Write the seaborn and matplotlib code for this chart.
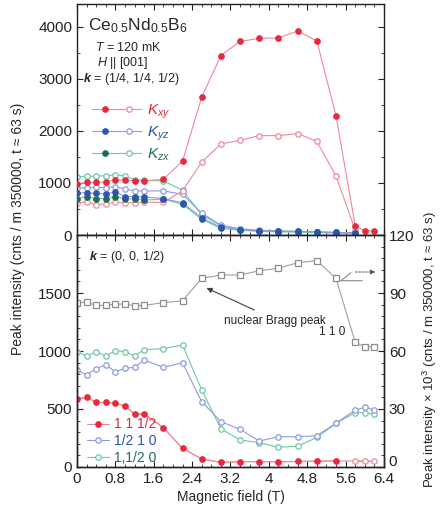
import matplotlib
matplotlib.use("Agg")
import matplotlib.pyplot as plt
import matplotlib.transforms as mtransforms
import seaborn as sns
import numpy as np
from matplotlib.ticker import MultipleLocator
from matplotlib.legend_handler import HandlerTuple

# ---------------- data ----------------
field = [0, 0.2, 0.4, 0.6, 0.8, 1.0, 1.2, 1.4, 1.8, 2.2, 2.6, 3.0, 3.4, 3.8,
         4.2, 4.6, 5.0, 5.4, 5.8, 6.0, 6.2]

# top panel, k = (1/4, 1/4, 1/2)
kxy_filled = [980, 1010, 1010, 1020, 1060, 1060, 1040, 1040, 1070, 1420, 2650,
              3450, 3720, 3780, 3790, 3920, 3730, 2290, 180, 80, 80]
kxy_open = [610, 640, 585, 600, 630, 620, 620, 630, 625, 850, 1400, 1750, 1820,
            1910, 1910, 1950, 1800, 1130, 100]
kyz_filled = [810, 810, 800, 790, 830, 740, 740, 730, 700, 620, 330, 150, 100,
              80, 70, 70, 60, 50, 40]
kyz_open = [900, 910, 920, 910, 930, 880, 850, 845, 850, 780, 420, 190, 120,
            90, 80, 70, 60, 50, 40]
kzx_filled = [700, 740, 700, 700, 740, 690, 700, 670, 690, 590, 300, 130, 90,
              70, 60, 60, 50, 40, 30]
kzx_open = [1120, 1130, 1130, 1140, 1150, 1140, 1060, 1050, 1040, 860, 390, 180,
            110, 80, 70, 60, 50, 40, 30]

# bottom panel, k = (0, 0, 1/2)
r_11half = [586, 601, 557, 557, 549, 526, 457, 457, 339, 161, 69, 40, 46, 46,
            45, 48, 50, 52, 52, 52, 52]
n_filled_11half = 18
r_half10 = [836, 793, 848, 879, 822, 851, 859, 922, 859, 899, 563, 391, 325,
            224, 261, 261, 270, 377, 491, 514, 491]
r_1half0 = [994, 957, 994, 957, 1003, 994, 957, 1012, 1020, 1052, 664, 330, 233,
            210, 170, 180, 255, 377, 468, 468, 454]
# nuclear Bragg peak 1 1 0 (right axis, x 10^3)
bragg_110 = [85.0, 85.2, 83.6, 83.6, 84.3, 84.3, 83.4, 83.6, 85.0, 86.0, 97.6,
             99.3, 99.3, 101.5, 102.8, 105.7, 106.7, 97.6, 64.5, 62.2, 62.2]

xticks = [0, 0.8, 1.6, 2.4, 3.2, 4, 4.8, 5.6, 6.4]
xtick_labels = ["0", "0.8", "1.6", "2.4", "3.2", "4", "4.8", "5.6", "6.4"]

# ---------------- style ----------------
sns.set_theme(style="ticks")
plt.rcParams["font.family"] = ["Liberation Sans", "DejaVu Sans"]
plt.rcParams["mathtext.fontset"] = "custom"
plt.rcParams["mathtext.rm"] = "Liberation Sans"
plt.rcParams["mathtext.it"] = "Liberation Sans:italic"
plt.rcParams["mathtext.bf"] = "Liberation Sans:italic:bold"
plt.rcParams["axes.linewidth"] = 1.0
plt.rcParams["axes.edgecolor"] = "#222222"

RED = "#e8283c"
PINK = "#f08898"
BLUE = "#2a55b0"
LBLUE = "#8c9ae0"
GREEN = "#1e6e50"
LGREEN = "#6cc8a4"
GRAY = "#8c8c8c"

fig = plt.figure(figsize=(4.41, 5.12), dpi=100)
axt = fig.add_axes([0.1746, 0.5410, 0.6961, 0.4512])
axb = fig.add_axes([0.1746, 0.0879, 0.6961, 0.4531])

MS = 3.9


def series(ax, x, y, lcolor, mfc, mec, marker="o", ms=MS, lw=0.8, z=2):
    sns.lineplot(x=x, y=y, ax=ax, color=lcolor, marker=marker, markersize=ms,
                 markerfacecolor=mfc, markeredgecolor=mec, markeredgewidth=0.9,
                 linewidth=lw, estimator=None, sort=False, legend=False,
                 zorder=z)
    return ax.lines[-1]


# ---- top panel ----
n = len(kyz_open)
l_zo = series(axt, field[:n], kzx_open, LGREEN, "white", LGREEN)
l_yo = series(axt, field[:n], kyz_open, LBLUE, "white", LBLUE)
l_xo = series(axt, field[:len(kxy_open)], kxy_open, PINK, "white", PINK)
l_zf = series(axt, field[:n], kzx_filled, LGREEN, GREEN, GREEN, z=3)
l_yf = series(axt, field[:n], kyz_filled, LBLUE, BLUE, BLUE, z=3)
l_xf = series(axt, field, kxy_filled, PINK, RED, RED, z=3)

axt.set_xlim(0, 6.4)
axt.set_ylim(0, 4440)
axt.set_yticks([0, 1000, 2000, 3000, 4000])
axt.yaxis.set_minor_locator(MultipleLocator(500))
axt.set_xticks(xticks)
axt.xaxis.set_minor_locator(MultipleLocator(0.2))
axt.tick_params(axis="x", labelbottom=False)
axt.set_xlabel("")
axt.set_ylabel("")

fs_txt = 9
axt.text(0.035, 0.945, r"Ce$_{0.5}$Nd$_{0.5}$B$_{6}$", transform=axt.transAxes,
         fontsize=12.5, va="top", ha="left")
axt.text(0.06, 0.81, r"$T$ = 120 mK", transform=axt.transAxes, fontsize=fs_txt,
         va="center", ha="left")
axt.text(0.065, 0.745, r"$H$ || [001]", transform=axt.transAxes, fontsize=fs_txt,
         va="center", ha="left")
axt.text(0.02, 0.675, r"$\mathbf{k}$ = (1/4, 1/4, 1/2)", transform=axt.transAxes,
         fontsize=fs_txt, va="center", ha="left")

leg = axt.legend(handles=[(l_xf, l_xo), (l_yf, l_yo), (l_zf, l_zo)],
                 labels=[r"$K_{xy}$", r"$K_{yz}$", r"$K_{zx}$"],
                 handler_map={tuple: HandlerTuple(ndivide=None, pad=0.0)},
                 loc="upper left", bbox_to_anchor=(0.03, 0.60), frameon=False,
                 handlelength=3.2, handletextpad=0.4, labelspacing=0.25,
                 fontsize=11, borderaxespad=0.0)
for t, c in zip(leg.get_texts(), [RED, BLUE, GREEN]):
    t.set_color(c)

# ---- bottom panel ----
axr = axb.twinx()
l_g = series(axb, field, r_1half0, LGREEN, "white", LGREEN)
l_b = series(axb, field, r_half10, LBLUE, "white", LBLUE)
sns.lineplot(x=field, y=r_11half, ax=axb, color=PINK, linewidth=0.8,
             estimator=None, sort=False, legend=False)
l_r = series(axb, field[:n_filled_11half], r_11half[:n_filled_11half], PINK,
             RED, RED, z=3)
series(axb, field[n_filled_11half:], r_11half[n_filled_11half:], PINK,
       "white", PINK, z=3)

series(axr, field, bragg_110, "#a0a0a0", "white", GRAY, marker="s", ms=3.8)

axb.set_xlim(0, 6.4)
axb.set_ylim(0, 2000)
axr.set_ylim(0, 120)
axb.set_yticks([0, 500, 1000, 1500])
axb.yaxis.set_minor_locator(MultipleLocator(100))
axr.set_yticks([0, 30, 60, 90, 120])
axr.yaxis.set_minor_locator(MultipleLocator(6))
axb.set_xticks(xticks)
axb.set_xticklabels(xtick_labels)
axb.xaxis.set_minor_locator(MultipleLocator(0.2))
axb.set_xlabel("Magnetic field (T)", fontsize=10, labelpad=3)
axb.set_ylabel("")
axr.set_ylabel("")

axb.text(0.04, 0.905, r"$\mathbf{k}$ = (0, 0, 1/2)", transform=axb.transAxes,
         fontsize=fs_txt, va="center", ha="left")

axb.annotate("", xy=(2.70, 1543), xytext=(3.70, 1353),
             arrowprops=dict(arrowstyle="-|>", color="#444444", lw=0.8,
                             mutation_scale=8, shrinkA=0, shrinkB=0))
axb.text(4.12, 1255, "nuclear Bragg peak", fontsize=8.5, ha="center",
         va="center")
axb.text(5.6, 1165, "1 1 0", fontsize=8.5, ha="right", va="center")

# break / pointer to right axis
axb.plot([5.71, 5.50, 5.95], [1675, 1606, 1606], color="#888888", lw=0.8)
axb.annotate("", xy=(6.22, 1681), xytext=(5.80, 1681),
             arrowprops=dict(arrowstyle="-|>", color="#555555", lw=0.7,
                             linestyle=(0, (2, 1.5)), mutation_scale=7,
                             shrinkA=0, shrinkB=0))

legb = axb.legend(handles=[l_r, l_b, l_g],
                  labels=["1 1 1/2", "1/2 1 0", "1,1/2 0"],
                  loc="lower left", bbox_to_anchor=(0.015, -0.015), frameon=False,
                  handlelength=1.6, handletextpad=0.3, labelspacing=0.2,
                  fontsize=10, borderaxespad=0.0)
for t, c in zip(legb.get_texts(), [RED, BLUE, GREEN]):
    t.set_color(c)

for ax in (axt, axb, axr):
    ax.tick_params(which="both", direction="in", top=True, right=True,
                   labelsize=11, colors="#222222")
    ax.tick_params(which="major", length=4, width=0.8)
    ax.tick_params(which="minor", length=2.2, width=0.6)
    for s in ax.spines.values():
        s.set_visible(True)
axb.tick_params(axis="y", right=False, which="both")
axr.tick_params(axis="y", left=False, which="both")

# nudge the right-axis "0" label up a little so it clears "6.4"
fig.canvas.draw()
shift = mtransforms.ScaledTranslation(0, 5 / 72, fig.dpi_scale_trans)
for lab in axr.get_yticklabels():
    if lab.get_text() == "0":
        lab.set_transform(lab.get_transform() + shift)

fig.text(0.04, 0.553, "Peak intensity (cnts / m 350000, t \u2248 63 s)",
         rotation=90, fontsize=10, ha="center", va="center")
fig.text(0.975, 0.318,
         "Peak intensity \u00d7 10$^{3}$ (cnts / m 350000, t \u2248 63 s)",
         rotation=90, fontsize=9.5, ha="center", va="center")

fig.savefig("out.png", dpi=100)
